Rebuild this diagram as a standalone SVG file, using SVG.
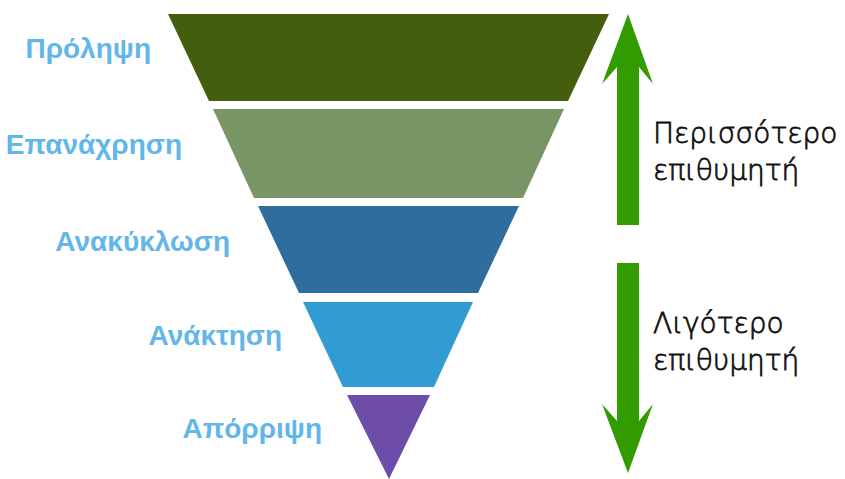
<svg xmlns="http://www.w3.org/2000/svg" width="845" height="479" viewBox="0 0 845 479">
  <style>
    .lbl { font-family: "Liberation Sans", "Noto Sans", sans-serif; font-weight: bold; font-size: 28px; fill: #63b6e8; text-anchor: end; }
    .side { font-family: "DejaVu Sans", "Liberation Sans", sans-serif; font-weight: 200; font-size: 28px; fill: #111111; stroke: #111111; stroke-width: 0.8px; }
    .arrow { fill: #329b00; }
  </style>
  <rect width="845" height="479" fill="#ffffff"/>
  <g id="prolipsi">
    <polygon points="168,14 609,14 568,101 209,101" fill="#435e0c"/>
    <text class="lbl" x="151" y="58">Πρόληψη</text>
  </g>
  <g id="epanachrisi">
    <polygon points="213,109 564,109 523,198 254,198" fill="#7a9565"/>
    <text class="lbl" x="182" y="154">Επανάχρηση</text>
  </g>
  <g id="anakyklosi">
    <polygon points="258,206 519,206 478,293 299,293" fill="#2f6d9e"/>
    <text class="lbl" x="230" y="251">Ανακύκλωση</text>
  </g>
  <g id="anaktisi">
    <polygon points="303,302 473,302 434,387 343,387" fill="#319bd3"/>
    <text class="lbl" x="282" y="345">Ανάκτηση</text>
  </g>
  <g id="aporripsi">
    <polygon points="347,395 430,395 389,479" fill="#6e4ca9"/>
    <text class="lbl" x="322" y="438">Απόρριψη</text>
  </g>
  <g id="connectors">
    <polygon class="arrow" points="628,14 653,84 639,67 639,225 617,225 617,67 602,84"/>
    <polygon class="arrow" points="617,263 639,263 639,421 653,404 628,473 602,404 617,421"/>
  </g>
  <g id="more-desirable">
    <text class="side" x="653" y="143">Περισσότερο</text>
    <text class="side" x="653" y="180">επιθυμητή</text>
  </g>
  <g id="less-desirable">
    <text class="side" x="653" y="333">Λιγότερο</text>
    <text class="side" x="653" y="370">επιθυμητή</text>
  </g>
</svg>
